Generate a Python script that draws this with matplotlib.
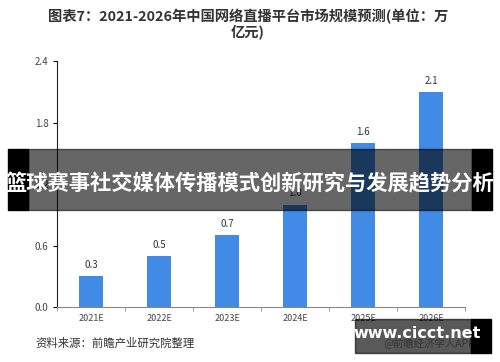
import matplotlib.pyplot as plt
from matplotlib.patches import Rectangle

plt.rcParams['font.family'] = ['Noto Sans CJK SC', 'DejaVu Sans']

years = ['2021E', '2022E', '2023E', '2024E', '2025E', '2026E']
values = [0.3, 0.5, 0.7, 1.0, 1.6, 2.1]
yticks = [0.0, 0.6, 1.2, 1.8, 2.4]
title = '图表7：2021-2026年中国网络直播平台市场规模预测(单位：万\n亿元)'
source = '资料来源：前瞻产业研究院整理'
banner = '篮球赛事社交媒体传播模式创新研究与发展趋势分析'

fig = plt.figure(figsize=(5, 3.62), dpi=100)
ax = fig.add_axes([0.114, 0.152, 0.816, 0.679])

xs = range(len(years))
ax.bar(xs, values, width=0.35, color='#418ae6', zorder=2)
for x, v in zip(xs, values):
    ax.text(x, v + 0.06, f'{v:.1f}', ha='center', va='bottom', fontsize=7, color='#333333')

ax.set_xlim(-0.5, len(years) - 0.5)
ax.set_ylim(0, 2.4)
ax.set_yticks(yticks)
ax.set_yticklabels([f'{t:.1f}' for t in yticks], fontsize=7, color='#444444')
ax.set_xticks(list(xs))
ax.set_xticklabels(years, fontsize=6.5, color='#444444')
ax.set_xticks([i - 0.5 for i in range(len(years) + 1)], minor=True)
ax.tick_params(axis='x', which='major', length=0, pad=5)
ax.tick_params(axis='x', which='minor', length=3, color='#888888')
ax.tick_params(axis='y', length=3, pad=3)
ax.spines['top'].set_visible(False)
ax.spines['right'].set_visible(False)
ax.spines['left'].set_color('#222222')
ax.spines['bottom'].set_color('#888888')

fig.text(0.496, 1 - 24 / 362, title, ha='center', va='center', fontsize=10.3,
         fontweight='bold', color='#333333', linespacing=1.0)
fig.text(0.07, 1 - 343 / 362, source, ha='left', va='center', fontsize=8.2, color='#333333')

# overlay banner
H = 362.0
fig.patches.append(Rectangle((8 / 500, 1 - 210 / H), 20 / 500, 61 / H,
                             transform=fig.transFigure, color='black', zorder=5))
fig.patches.append(Rectangle((28 / 500, 1 - 210 / H), 444 / 500, 61 / H,
                             transform=fig.transFigure, color='black', alpha=0.6, zorder=5))
fig.patches.append(Rectangle((472 / 500, 1 - 210 / H), 20 / 500, 61 / H,
                             transform=fig.transFigure, color='black', zorder=5))
fig.text(0.5, 1 - 184 / H, banner, ha='center', va='center', fontsize=15.3,
         fontweight='bold', color='white', zorder=6)

# watermark box
fig.text(0.95, 1 - 343 / H, '@前瞻经济学人APP', ha='right', va='center', fontsize=7.5,
         color='#999999', zorder=4)
fig.patches.append(Rectangle((355 / 500, 1 - 353 / H), 116 / 500, 34 / H,
                             transform=fig.transFigure, color='black', alpha=0.65, zorder=5))
fig.patches.append(Rectangle((471 / 500, 1 - 353 / H), 20 / 500, 34 / H,
                             transform=fig.transFigure, color='black', zorder=5))
fig.text(0.962, 1 - 334 / H, 'www.cicct.net', ha='right', va='center', fontsize=11.5,
         fontweight='bold', color='white', family='DejaVu Sans', zorder=6)

fig.savefig('out.png', dpi=100)
